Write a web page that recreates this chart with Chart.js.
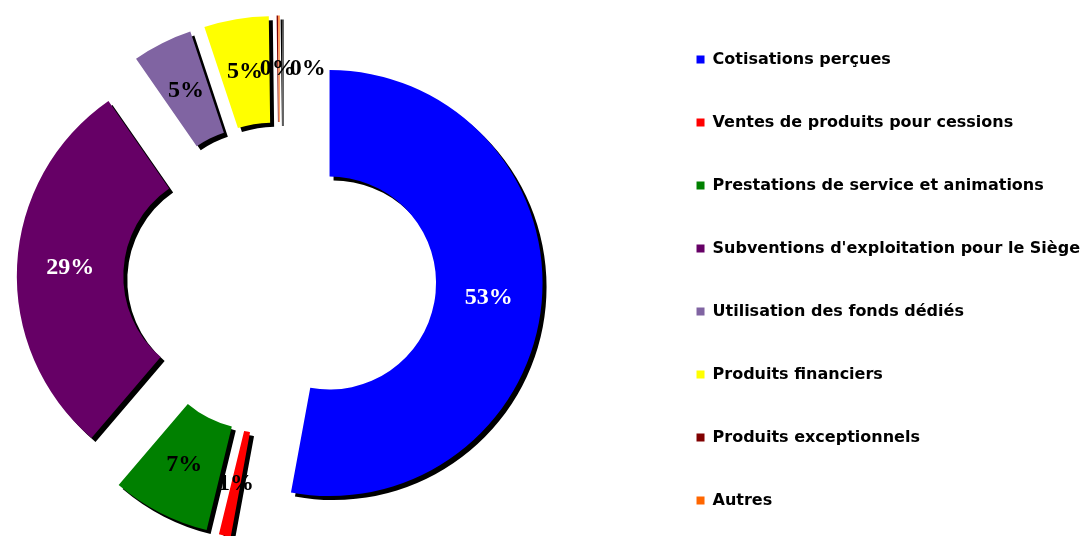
<!DOCTYPE html>
<html>
<head>
<meta charset="utf-8">
<script src="https://cdn.jsdelivr.net/npm/chart.js@4/dist/chart.umd.min.js"></script>
<style>
  html, body { margin: 0; padding: 0; background: #fff; }
  #wrap { width: 1085px; height: 536px; position: relative; }
</style>
</head>
<body>
<div id="wrap"><canvas id="pie"></canvas></div>
<script>
  // ---------- data (in % of total) ----------
  var categories = [
    "Cotisations perçues",
    "Ventes de produits pour cessions",
    "Prestations de service et animations",
    "Subventions d'exploitation pour le Siège",
    "Utilisation des fonds dédiés",
    "Produits financiers",
    "Produits exceptionnels",
    "Autres"
  ];
  var shares = [52.9, 0.9, 7.45, 29.1, 4.55, 4.9, 0.1, 0.1];
  var sliceColors = ["#0000ff", "#ff0000", "#008000", "#660066", "#8064a2", "#ffff00", "#800000", "#ff6600"];
  var labelColors = ["#fff", "#000", "#000", "#fff", "#000", "#000", "#000", "#000"];

  var EXPLODE = 50;   // px each slice is pulled away from the centre
  var PIE_GAP = 90;   // extra white space between the ring and the legend
  var PIE_TOP = 21;   // extra white space above the ring

  // margins around the ring only (the legend keeps its own box)
  var gapPlugin = {
    id: "gap",
    afterLayout: function (chart) {
      var a = chart.chartArea;
      a.right -= PIE_GAP;
      a.width -= PIE_GAP;
      a.top += PIE_TOP;
      a.height -= PIE_TOP;
    }
  };

  // push every arc outward along its mid angle (Excel-style exploded pie)
  var explodePlugin = {
    id: "explode",
    afterDatasetsUpdate: function (chart) {
      chart.getDatasetMeta(0).data.forEach(function (arc) {
        var mid = (arc.startAngle + arc.endAngle) / 2;
        arc.x += Math.cos(mid) * EXPLODE;
        arc.y += Math.sin(mid) * EXPLODE;
      });
    },
    beforeDatasetsDraw: function (chart) {
      var ctx = chart.ctx;
      ctx.save();
      ctx.shadowColor = "#000";
      ctx.shadowBlur = 0;
      ctx.shadowOffsetX = 4;
      ctx.shadowOffsetY = 4;
    },
    afterDatasetsDraw: function (chart) {
      chart.ctx.restore();
    }
  };

  // percentage labels in the middle of each ring segment
  var pctPlugin = {
    id: "pct",
    afterDraw: function (chart) {
      var ctx = chart.ctx;
      var total = shares.reduce(function (a, b) { return a + b; }, 0);
      var prev = null;
      ctx.save();
      ctx.font = "bold 24px 'Liberation Serif', 'Times New Roman', serif";
      ctx.textAlign = "center";
      ctx.textBaseline = "middle";
      chart.getDatasetMeta(0).data.forEach(function (arc, i) {
        var mid = (arc.startAngle + arc.endAngle) / 2;
        var rl = (arc.innerRadius + arc.outerRadius) / 2;
        var x = arc.x + Math.cos(mid) * rl;
        var y = arc.y + Math.sin(mid) * rl;
        // crude de-overlap for the tiny slices at the top
        if (prev && Math.abs(prev.y - y) < 20 && Math.abs(prev.x - x) < 30) {
          x = prev.x + 30;
        }
        ctx.fillStyle = labelColors[i];
        ctx.fillText(Math.round(shares[i] / total * 100) + "%", x, y);
        prev = { x: x, y: y };
      });
      ctx.restore();
    }
  };

  new Chart(document.getElementById("pie").getContext("2d"), {
    type: "doughnut",
    data: {
      labels: categories,
      datasets: [{
        data: shares,
        backgroundColor: sliceColors,
        borderWidth: 0,
        clip: false
      }]
    },
    options: {
      responsive: true,
      maintainAspectRatio: false,
      animation: false,
      radius: 213,
      cutout: "50%",
      // negative padding only widens the room the legend column may use
      layout: { padding: { left: 0, right: -5, top: -20, bottom: -44 } },
      plugins: {
        tooltip: { enabled: false },
        legend: {
          position: "right",
          labels: {
            boxWidth: 8,
            boxHeight: 8,
            padding: 47,
            color: "#000",
            font: { family: "'DejaVu Sans', sans-serif", size: 16, weight: "bold" }
          }
        }
      }
    },
    plugins: [gapPlugin, explodePlugin, pctPlugin]
  });
</script>
</body>
</html>
